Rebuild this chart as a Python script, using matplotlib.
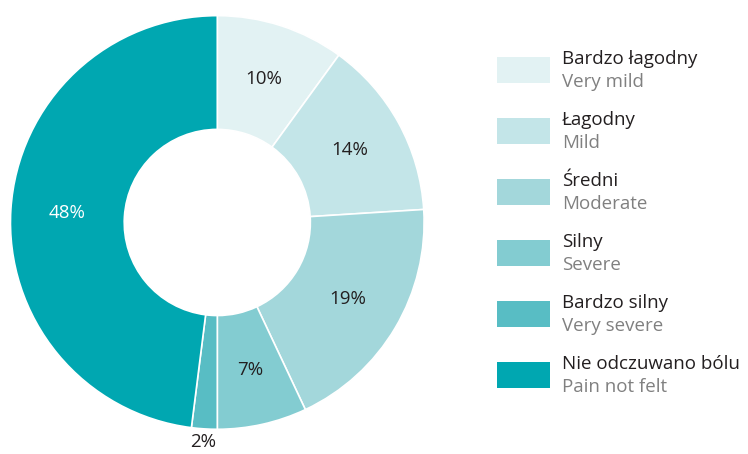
import matplotlib
matplotlib.use("Agg")
import matplotlib.pyplot as plt
from matplotlib.patches import Rectangle
import numpy as np

labels_pl = ["Bardzo łagodny", "Łagodny", "Średni", "Silny", "Bardzo silny", "Nie odczuwano bólu"]
labels_en = ["Very mild", "Mild", "Moderate", "Severe", "Very severe", "Pain not felt"]
values = [10, 14, 19, 7, 2, 48]
colors = ["#e2f2f3", "#c3e5e8", "#a3d7db", "#83ccd1", "#58bdc4", "#00a7b1"]
label_colors = ["#231f20", "#231f20", "#231f20", "#231f20", "#231f20", "#ffffff"]

plt.rcParams['font.family'] = ['Open Sans', 'DejaVu Sans']

fig = plt.figure(figsize=(7.48, 4.54), dpi=100)
ax = fig.add_axes([0.014, 0.054, 0.553, 0.912])
wedges, _ = ax.pie(values, colors=colors, startangle=90, counterclock=False,
                   wedgeprops=dict(width=0.55, edgecolor="white", linewidth=1.2))
ax.set_xlim(-1, 1)
ax.set_ylim(-1, 1)
ax.set_aspect("equal")

for w, v, c in zip(wedges, values, label_colors):
    ang = np.deg2rad((w.theta1 + w.theta2) / 2)
    r = 0.73 if v >= 5 else 1.065
    col = c if v >= 5 else "#231f20"
    ax.text(r * np.cos(ang), r * np.sin(ang), f"{v}%", ha="center", va="center",
            fontsize=13.5, color=col)

# legend
sw_x, sw_w, sw_h = 497, 53, 26
y0, dy = 70, 61
W, H = 748, 454
for i, (pl, en, c) in enumerate(zip(labels_pl, labels_en, colors)):
    yc = y0 + i * dy
    fig.patches.append(Rectangle((sw_x / W, 1 - (yc + sw_h / 2) / H), sw_w / W, sw_h / H,
                                 transform=fig.transFigure, facecolor=c, edgecolor="none"))
    fig.text(562 / W, 1 - (yc - 11) / H, pl, fontsize=13.5, color="#231f20", va="center", ha="left")
    fig.text(562 / W, 1 - (yc + 12) / H, en, fontsize=13.5, color="#808080", va="center", ha="left")

fig.savefig("out.png", dpi=100)
